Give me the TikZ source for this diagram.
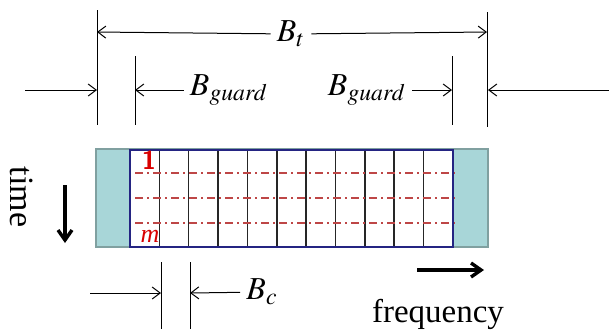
\documentclass[tikz,border=0pt]{standalone}
\usepackage{mathptmx}
\usepackage{fontspec}
\setmainfont{Liberation Serif}
\usetikzlibrary{arrows.meta,positioning}
\definecolor{bandTeal}{RGB}{168,214,216}
\definecolor{bandEdge}{RGB}{128,160,160}
\definecolor{gridBlue}{RGB}{36,36,130}
\definecolor{slotRed}{RGB}{190,70,70}
\begin{document}
\begin{tikzpicture}[
  x=0.5pt, y=-0.5pt,
  label/.style={inner sep=3pt, font=\fontsize{16}{18}\selectfont},
  dimarrow/.style={-{Straight Barb[length=4pt,width=6pt]}, line width=0.5pt},
  dimline/.style={line width=0.5pt},
  bigarrow/.style={-{Straight Barb[length=5pt,width=7pt]}, line width=1.7pt},
  cell/.style={line width=0.75pt, black!85},
  slot/.style={slotRed, line width=0.7pt, dash pattern=on 4pt off 2pt on 1pt off 2pt}
]
\useasboundingbox (0,0) rectangle (609,329);
% band and channels
\draw[fill=bandTeal, draw=bandEdge, line width=0.8pt] (96,149) rectangle (488,247);
\fill[white] (130,150) rectangle (453,247);
\foreach \i in {1,...,10}
  \draw[cell] ({130+\i*29.36},150) -- ({130+\i*29.36},247);
\foreach \y in {173,198,223}
  \draw[slot] (135,\y) -- (455,\y);
\draw[gridBlue, line width=1.4pt] (130,150) rectangle (453,247);
\node[text=red!85!black, font=\fontsize{13}{14}\selectfont\bfseries\sffamily, inner sep=0pt] (slotFirst) at (149,160) {1};
\node[text=red!85!black, font=\fontsize{13}{14}\selectfont\itshape, inner sep=0pt] (slotLast) at (150,236) {m};
% total bandwidth
\coordinate (btL) at (97,32);
\coordinate (btR) at (487,32);
\draw[dimline] (97,10) -- (97,125);
\draw[dimline] (487,12) -- (487,127);
\node[label] (Bt) at (291,34) {$B_t$};
\draw[dimarrow] (Bt) -- (btL);
\draw[dimarrow] (Bt) -- (btR);
% guard bands
\coordinate (gaL) at (25,90);
\coordinate (gaLend) at (97,90);
\coordinate (gbL) at (135,90);
\coordinate (gbR) at (452,90);
\coordinate (gaR) at (609,90);
\coordinate (gaRend) at (488,90);
\draw[dimline] (135,56) -- (135,125);
\draw[dimline] (452,56) -- (452,125);
\node[label] (Bguard1) at (229,90) {$B_{guard}$};
\node[label] (Bguard2) at (367,90) {$B_{guard}$};
\draw[dimarrow] (gaL) -- (gaLend);
\draw[dimarrow] (Bguard1) -- (gbL);
\draw[dimarrow] (Bguard2) -- (gbR);
\draw[dimarrow] (gaR) -- (gaRend);
% channel width
\coordinate (bcL) at (90,293);
\coordinate (bcLend) at (161,293);
\coordinate (bcR) at (190,293);
\draw[dimline] (161,262) -- (161,329);
\draw[dimline] (190,262) -- (190,329);
\node[label] (Bc) at (262,292) {$B_c$};
\draw[dimarrow] (bcL) -- (bcLend);
\draw[dimarrow] (Bc) -- (bcR);
% axes
\node[label, rotate=-90, font=\fontsize{17}{18}\selectfont] (timeLabel) at (22,197) {time};
\coordinate (timeTop) at (65,185);
\coordinate (timeEnd) at (65,243);
\draw[bigarrow] (timeTop) -- (timeEnd);
\coordinate (freqStart) at (417,270);
\coordinate (freqEnd) at (484,270);
\draw[bigarrow] (freqStart) -- (freqEnd);
\node[label, font=\fontsize{16.5}{18}\selectfont] (freqLabel) at (438,314) {frequency};
\end{tikzpicture}
\end{document}
